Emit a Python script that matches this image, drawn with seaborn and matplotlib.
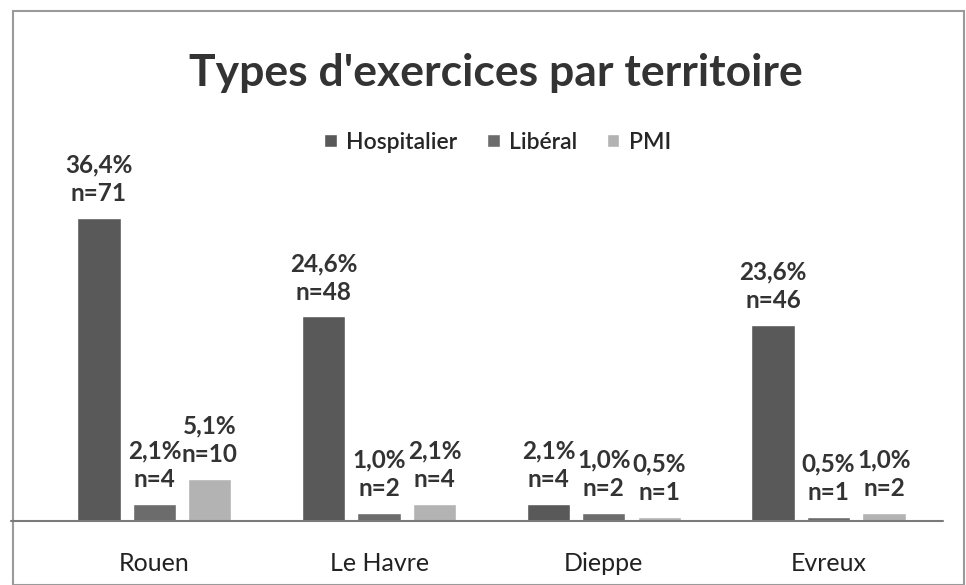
import pandas as pd
import numpy as np
import matplotlib.pyplot as plt
import seaborn as sns
from matplotlib.lines import Line2D
from matplotlib.patches import Rectangle

# data
territoires = ['Rouen', 'Le Havre', 'Dieppe', 'Evreux']
types = ['Hospitalier', 'Libéral', 'PMI']
hospitalier_pct = [36.4, 24.6, 2.1, 23.6]
hospitalier_n = [71, 48, 4, 46]
liberal_pct = [2.1, 1.0, 1.0, 0.5]
liberal_n = [4, 2, 2, 1]
pmi_pct = [5.1, 2.1, 0.5, 1.0]
pmi_n = [10, 4, 1, 2]

pcts = [hospitalier_pct, liberal_pct, pmi_pct]
counts = [hospitalier_n, liberal_n, pmi_n]
rows = []
for t, p, n in zip(types, pcts, counts):
    for terr, v, c in zip(territoires, p, n):
        rows.append({'territoire': terr, 'type': t, 'pct': v, 'n': c})
df = pd.DataFrame(rows)

sns.set_theme(style='white')
plt.rcParams['font.family'] = ['Lato', 'DejaVu Sans']

colors = ['#595959', '#6c6c6c', '#b3b3b3']

fig = plt.figure(figsize=(9.66, 5.85), dpi=100)
ax = fig.add_axes([0.0435, 0.1094, 0.9305, 0.5692])

sns.barplot(data=df, x='territoire', y='pct', hue='type', order=territoires,
            hue_order=types, palette=colors, width=0.74, gap=0.22,
            saturation=1, ax=ax, legend=True)

for cont, t in zip(ax.containers, types):
    sub = df[df['type'] == t].set_index('territoire').loc[territoires]
    labels = [f"{v:.1f}%".replace('.', ',') + f"\nn={c}" for v, c in zip(sub['pct'], sub['n'])]
    ax.bar_label(cont, labels=labels, padding=9, fontsize=17.5, fontweight='bold',
                 color='#333333', linespacing=1.3)

ax.set_ylim(0, 40)
ax.set_xlim(-0.5, 3.5)
ax.set_xlabel('')
ax.set_ylabel('')
ax.set_yticks([])
ax.tick_params(axis='x', length=0, pad=22, labelsize=18, labelcolor='#222222')
for s in ['top', 'right', 'left', 'bottom']:
    ax.spines[s].set_visible(False)

# baseline
fig.add_artist(Line2D([0.011, 0.976], [0.1094, 0.1094], color='#7a7a7a', lw=1.5))

# legend
handles, lbls = ax.get_legend_handles_labels()
ax.get_legend().remove()
fig.legend(handles, lbls, loc='center', bbox_to_anchor=(0.515, 0.757), ncol=3,
           frameon=False, prop={'size': 16.5, 'weight': 'semibold'},
           handlelength=0.55, handleheight=0.55,
           columnspacing=1.3, handletextpad=0.4)

fig.suptitle("Types d'exercices par territoire", x=0.513, y=0.91, fontsize=32,
             fontweight='bold', color='#333333')

# outer frame
fig.add_artist(Rectangle((0.0135, 0.0), 0.984, 0.981, transform=fig.transFigure,
                         fill=False, edgecolor='#9a9a9a', lw=1.5))

fig.savefig('out.png', dpi=100)
